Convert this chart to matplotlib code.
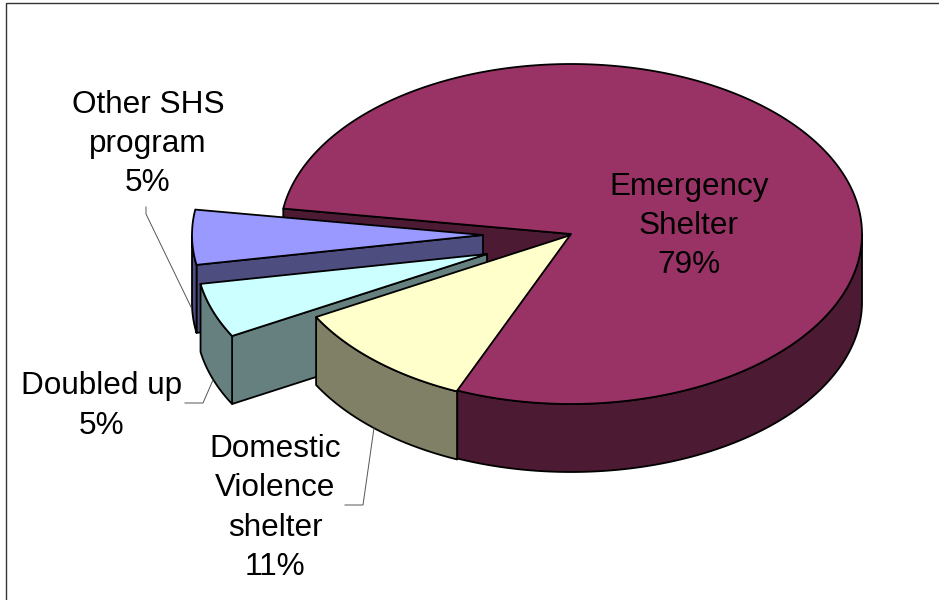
import numpy as np
from matplotlib import pyplot as plt
from matplotlib.patches import Polygon, Rectangle

plt.rcParams['font.family'] = ['Liberation Sans', 'DejaVu Sans']

# Data, in drawing order going clockwise on screen from the emergency slice
categorias = ["Emergency\nShelter", "Other SHS\nprogram", "Doubled up", "Domestic\nViolence\nshelter"]
valores = [79.0, 5.2, 5.2, 10.6]
etiquetas = ["79%", "5%", "5%", "11%"]

colores_top = ["#993366", "#9999FF", "#CCFFFF", "#FFFFCC"]
colores_lado = ["#4D1A33", "#4D4D80", "#668080", "#808066"]

# Geometry of the fake 3D pie, in pixels
CX, CY = 571, 234
RX, RY = 291, 170
PROF = 68
ANG_INI = 247
desplaz = [(0, 0), (-88, 1), (-84, 20), (0, 1)]
LW = 1.3

fig = plt.figure(figsize=(9.39, 6.0), dpi=100)
ax = fig.add_axes([0, 0, 1, 1])
ax.set_xlim(0, 939)
ax.set_ylim(600, 0)
ax.axis("off")

ax.add_patch(Rectangle((6, 3), 950, 620, fill=False, edgecolor="#333333", linewidth=1.0))

#Angles of each slice, counter clockwise
angulos = ANG_INI + np.concatenate(([0], np.cumsum(valores))) * 3.6


def punto(ang, dx, dy, prof=0):
    rad = np.radians(ang)
    return CX + dx + RX * np.cos(rad), CY + dy - RY * np.sin(rad) + prof


def poligono(xs, ys, color):
    ax.add_patch(Polygon(np.column_stack([xs, ys]), closed=True, facecolor=color,
                         edgecolor="black", linewidth=LW, joinstyle="round"))


def cara_radial(ang, dx, dy, color):
    x1, y1 = punto(ang, dx, dy)
    xs = [CX + dx, x1, x1, CX + dx]
    ys = [CY + dy, y1, y1 + PROF, CY + dy + PROF]
    poligono(xs, ys, color)


def pared(a1, a2, dx, dy, color):
    # only the front half of the rim can be seen
    if a1 >= 360:
        a1, a2 = a1 - 360, a2 - 360
    a1, a2 = max(a1, 180), min(a2, 360)
    if a2 <= a1:
        return
    t = np.linspace(a1, a2, 120)
    x, y = punto(t, dx, dy)
    poligono(np.r_[x, x[::-1]], np.r_[y, (y + PROF)[::-1]], color)


def cara_top(a1, a2, dx, dy, color):
    t = np.linspace(a1, a2, 300)
    x, y = punto(t, dx, dy)
    poligono(np.r_[CX + dx, x], np.r_[CY + dy, y], color)


#The cut face of the big slice goes behind the exploded ones
cara_radial(angulos[1], 0, 0, colores_lado[0])

for i in [1, 2, 3]:
    dx, dy = desplaz[i]
    if i != 3:
        cara_radial(angulos[i + 1], dx, dy, colores_lado[i])
    pared(angulos[i], angulos[i + 1], dx, dy, colores_lado[i])
    cara_top(angulos[i], angulos[i + 1], dx, dy, colores_top[i])

pared(angulos[0], angulos[1], 0, 0, colores_lado[0])
cara_top(angulos[0], angulos[1], 0, 0, colores_top[0])

#Leader lines
lider_x = [[146, 146, 191], [185, 203, 213], [345, 363, 374]]
lider_y = [[207, 214, 307], [403, 403, 380], [505, 505, 428]]
for lx, ly in zip(lider_x, lider_y):
    ax.plot(lx, ly, color="#555555", linewidth=0.7, solid_joinstyle="miter")

pos_texto = [(689, 226), (148, 144), (102, 406), (275, 508)]
for cat, et, (tx, ty) in zip(categorias, etiquetas, pos_texto):
    ax.text(tx, ty, cat + "\n" + et, ha="center", va="center", fontsize=22.7,
            linespacing=1.41, color="black")

fig.savefig("out.png", dpi=100)
